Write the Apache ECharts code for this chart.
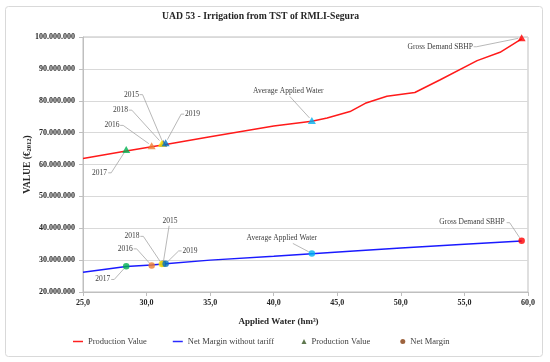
<!DOCTYPE html>
<html><head><meta charset="utf-8">
<script src="https://cdn.jsdelivr.net/npm/echarts@6/dist/echarts.min.js"></script>
<style>html,body{margin:0;padding:0;background:#fff}#c{width:550px;height:362px}</style>
</head><body><div id="c"></div>
<script>
// Production Value curve (applied water hm3, value €2012)
const pvX = [25.0, 28.4, 30.4, 31.5, 35.0, 40.0, 43.0, 44.2, 46.0, 47.2, 48.9, 51.1, 53.1, 56.0, 57.8, 59.5];
const pvY = [61.9e6, 64.2e6, 65.6e6, 66.3e6, 68.7e6, 72.1e6, 73.6e6, 74.6e6, 76.6e6, 79.2e6, 81.4e6, 82.6e6, 86.6e6, 92.6e6, 95.2e6, 99.4e6];
// Net Margin without tariff curve
const nmX = [25.0, 28.4, 30.4, 31.5, 35.0, 40.0, 43.0, 46.0, 50.0, 55.0, 59.5];
const nmY = [26.2e6, 28.0e6, 28.5e6, 28.9e6, 30.0e6, 31.2e6, 32.0e6, 32.8e6, 33.8e6, 35.0e6, 36.0e6];
// Highlighted points
const pointNames = ['2017', '2016', '2015', '2018', '2019', 'Average Applied Water', 'Gross Demand SBHP'];
const pointX = [28.4, 30.4, 31.3, 31.2, 31.5, 43.0, 59.5];
const pvPointY = [64.7e6, 65.9e6, 66.7e6, 66.7e6, 66.8e6, 73.8e6, 99.8e6];
const nmPointY = [28.1e6, 28.3e6, 28.85e6, 28.8e6, 28.9e6, 32.1e6, 36.1e6];
const pointColors = ['#00B050', '#ED7D31', '#44546A', '#FFE600', '#0070C0', '#00B0F0', '#FF0000'];
const xTicks = [25, 30, 35, 40, 45, 50, 55, 60];
const yTicks = [20e6, 30e6, 40e6, 50e6, 60e6, 70e6, 80e6, 90e6, 100e6];

// annotation layout (pixels relative to marker): text cx, cy, line start x, y, tick
const pvAnno = [[-26.7, 23.3, -18, 23.3, 3], [-39.7, -20.3, -31.5, -20.3, 3], [-31.6, -48.5, -23.5, -48.5, 3],
  [-41.4, -33, -33, -33, 3], [26.8, -28.7, 18.5, -28.7, -3], [-23.6, -29, -22, -24, 0], [-81.4, 9.1, -48, 9.1, 3]];
const nmAnno = [[-23.5, 13.3, -15, 13.3, 3], [-26.4, -16.7, -18, -16.7, 3], [7, -43, 6, -38, 0],
  [-29.8, -27.6, -21.5, -27.6, 3], [24.3, -12.7, 16, -12.7, -3], [-30, -15, -19, -10, 0], [-49.7, -18.7, -15, -18, 3]];

const FONT = '"Liberation Serif", "Times New Roman", serif';
const fmtNum = v => Math.round(v).toString().replace(/\B(?=(\d{3})+(?!\d))/g, '.');

function annoRender(anno) {
  return function (params, api) {
    const i = params.dataIndex;
    const p = api.coord([api.value(0), api.value(1)]);
    const a = anno[i];
    const sx = p[0] + a[2], sy = p[1] + a[3];
    const kx = sx + a[4], ky = sy;
    const dx = p[0] - kx, dy = p[1] - ky, d = Math.hypot(dx, dy) || 1;
    const ex = p[0] - dx / d * 3.5, ey = p[1] - dy / d * 3.5;
    const pts = a[4] ? [[sx, sy], [kx, ky], [ex, ey]] : [[sx, sy], [ex, ey]];
    return {
      type: 'group', children: [
        { type: 'polyline', shape: { points: pts }, style: { stroke: '#a6a6a6', lineWidth: 0.8, fill: null } },
        { type: 'text', style: { x: p[0] + a[0], y: p[1] + a[1], text: pointNames[i], align: 'center', verticalAlign: 'middle',
          fontSize: 7.5, fontFamily: FONT, fill: '#404040' } }
      ]
    };
  };
}

const chart = echarts.init(document.getElementById('c'), null, { renderer: 'canvas' });
chart.setOption({
  backgroundColor: '#ffffff',
  animation: false,
  graphic: [{ type: 'rect', shape: { x: 5.5, y: 6.5, width: 537, height: 350, r: 3 }, style: { fill: null, stroke: '#d9d9d9', lineWidth: 1 }, silent: true }],
  title: { text: 'UAD 53 - Irrigation from TST of RMLI-Segura', left: 157, top: 6,
    textStyle: { fontFamily: FONT, fontWeight: 'bold', fontSize: 9.7, color: '#262626' } },
  grid: { left: 83, right: 22, top: 37, bottom: 70, show: true, borderColor: '#bfbfbf', borderWidth: 1 },
  legend: [
    { data: ['Production Value', 'Net Margin without tariff'], left: 73, top: 337, padding: 0, icon: 'rect', itemWidth: 10, itemHeight: 1.5, itemGap: 26,
      textStyle: { fontFamily: FONT, fontSize: 8.5, color: '#404040' } },
    { data: [{ name: 'Production Value (points)', icon: 'triangle', itemStyle: { color: '#375623' } }, { name: 'Net Margin', icon: 'circle', itemStyle: { color: '#843C0C' } }],
      left: 301.5, top: 337, padding: 0, itemWidth: 5, itemHeight: 5, itemGap: 30,
      formatter: n => n.replace(' (points)', ''),
      textStyle: { fontFamily: FONT, fontSize: 8.5, color: '#404040' } }
  ],
  xAxis: {
    type: 'value', min: xTicks[0], max: xTicks[xTicks.length - 1], interval: 5,
    name: 'Applied Water (hm³)', nameLocation: 'middle', nameGap: 25, nameMoveOverlap: false,
    nameTextStyle: { fontFamily: FONT, fontWeight: 'bold', fontSize: 9, color: '#262626', padding: [0, 54, 0, 0] },
    axisLine: { lineStyle: { color: '#bfbfbf' } },
    axisTick: { show: true, length: 4, lineStyle: { color: '#bfbfbf' } },
    splitLine: { show: false },
    axisLabel: { formatter: v => v.toFixed(1).replace('.', ','), fontFamily: FONT, fontWeight: 'bold', fontSize: 8, color: '#262626', margin: 7 }
  },
  yAxis: {
    type: 'value', min: yTicks[0], max: yTicks[yTicks.length - 1], interval: 10e6,
    name: 'VALUE (€{sub|2012})', nameLocation: 'middle', nameGap: 50, nameMoveOverlap: false,
    nameTextStyle: { fontFamily: FONT, fontWeight: 'bold', fontSize: 9.5, color: '#262626',
      rich: { sub: { fontFamily: FONT, fontWeight: 'bold', fontSize: 6.5, color: '#262626', verticalAlign: 'bottom', padding: [4, 0, 0, 0] } } },
    axisLine: { show: true, lineStyle: { color: '#bfbfbf' } },
    axisTick: { show: true, length: 4, lineStyle: { color: '#bfbfbf' } },
    splitLine: { lineStyle: { color: '#d9d9d9' } },
    axisLabel: { formatter: fmtNum, fontFamily: FONT, fontWeight: 'bold', fontSize: 8, color: '#262626', margin: 8 }
  },
  series: [
    { name: 'Production Value', type: 'line', data: pvX.map((x, i) => [x, pvY[i]]), showSymbol: false, symbol: 'none',
      color: '#ff2020', lineStyle: { color: '#ff1a1a', width: 1.5 }, z: 2 },
    { name: 'Net Margin without tariff', type: 'line', data: nmX.map((x, i) => [x, nmY[i]]), showSymbol: false, symbol: 'none',
      color: '#2a2aff', lineStyle: { color: '#1a1aff', width: 1.5 }, z: 2 },
    { type: 'custom', renderItem: annoRender(pvAnno), data: pointX.map((x, i) => [x, pvPointY[i]]), encode: { x: 0, y: 1 }, silent: true, z: 3 },
    { type: 'custom', renderItem: annoRender(nmAnno), data: pointX.map((x, i) => [x, nmPointY[i]]), encode: { x: 0, y: 1 }, silent: true, z: 3 },
    { name: 'Production Value (points)', type: 'scatter', symbol: 'triangle', symbolSize: [8, 7], z: 4,
      itemStyle: { color: '#375623' },
      data: pointX.map((x, i) => ({ value: [x, pvPointY[i]], itemStyle: { color: pointColors[i] } })) },
    { name: 'Net Margin', type: 'scatter', symbol: 'circle', symbolSize: 6.5, z: 4,
      itemStyle: { color: '#843C0C' },
      data: pointX.map((x, i) => ({ value: [x, nmPointY[i]], itemStyle: { color: pointColors[i] } })) }
  ]
});
</script>
</body></html>
